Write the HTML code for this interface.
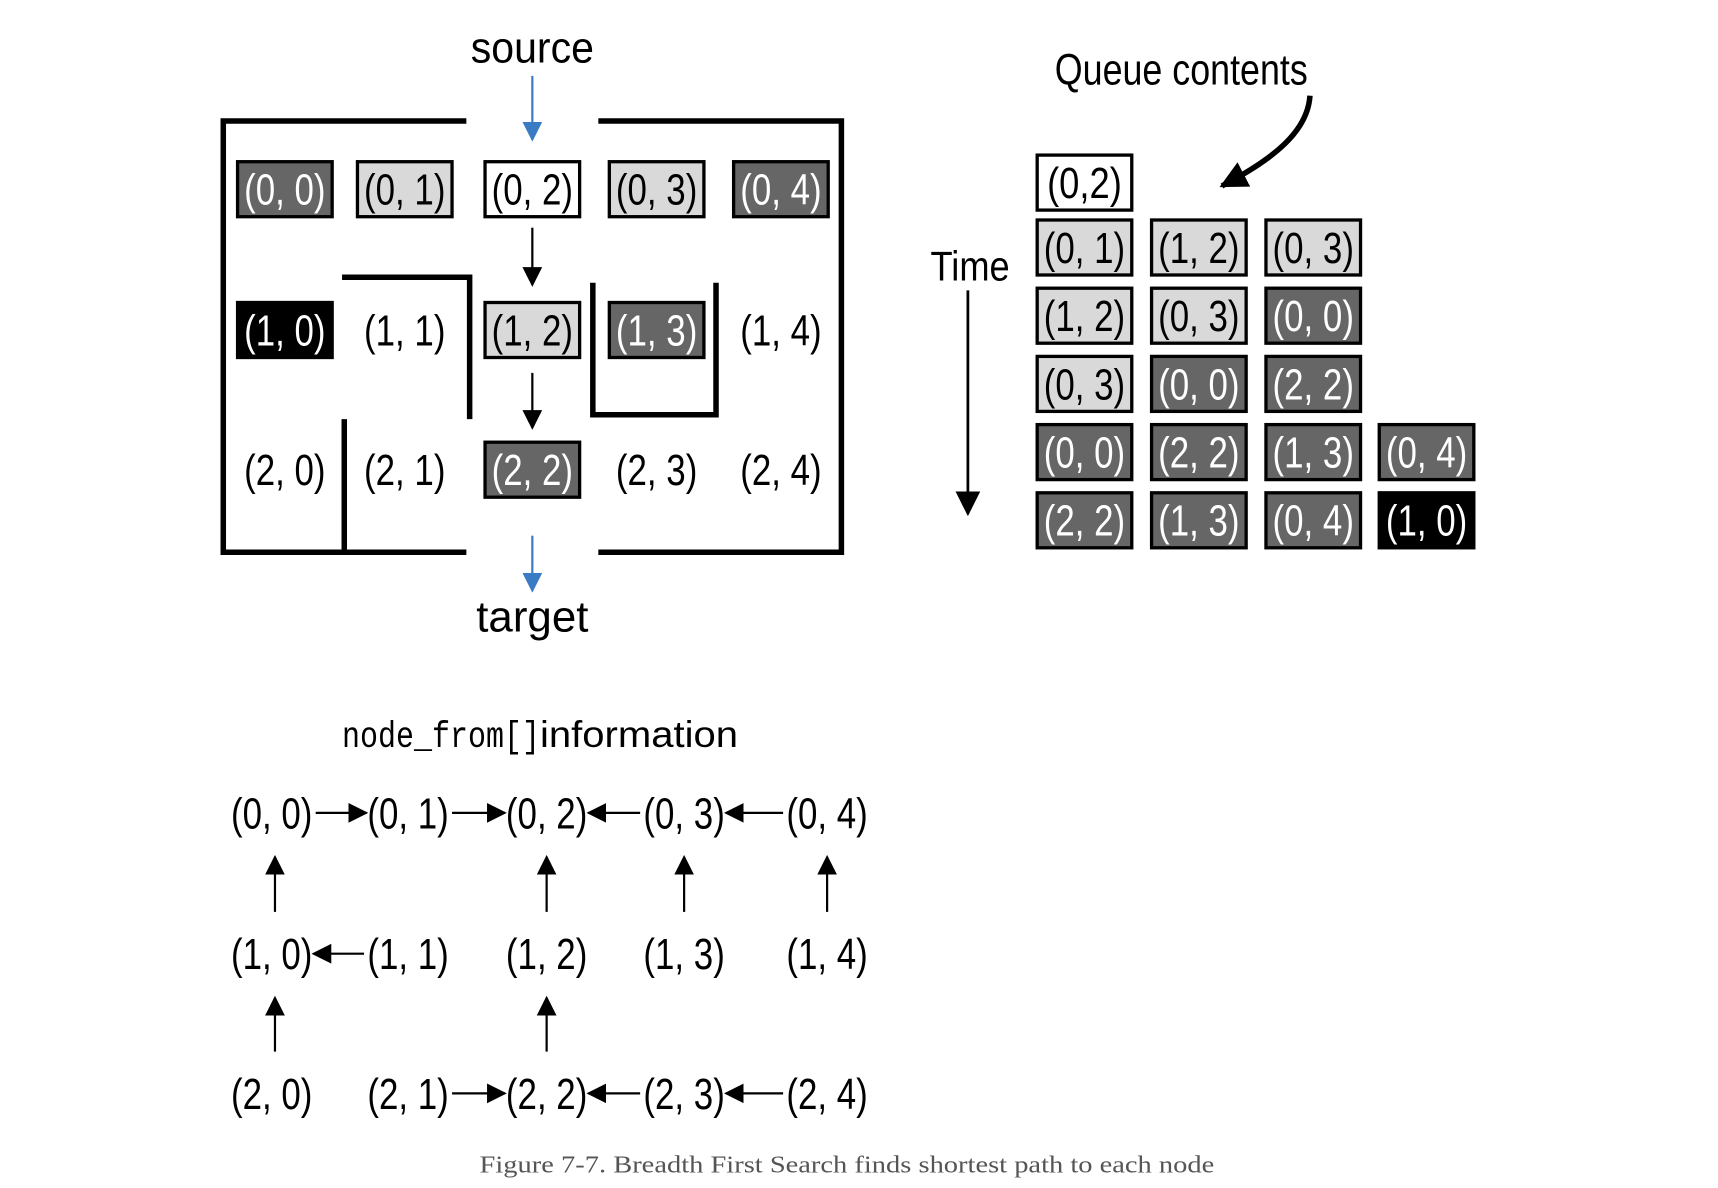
<!DOCTYPE html>
<html><head><meta charset="utf-8"><style>
html,body{margin:0;padding:0;background:#fff;}
svg{display:block;}
text{font-family:"Liberation Sans",sans-serif;}
</style></head><body>
<svg id="fig" width="1718" height="1188" viewBox="1 1 1562 1080" preserveAspectRatio="none" xmlns="http://www.w3.org/2000/svg">
<defs>
<marker id="ah" viewBox="0 0 10 10" refX="9" refY="5" markerWidth="9" markerHeight="9" orient="auto"><path d="M0,0L10,5L0,10z" fill="#000"/></marker>
<marker id="ahb" viewBox="0 0 10 10" refX="9" refY="5" markerWidth="9" markerHeight="9" orient="auto"><path d="M0,0L10,5L0,10z" fill="#3a7cc4"/></marker>
<marker id="ahc" viewBox="0 0 10 10" refX="9" refY="5" markerWidth="5" markerHeight="5" orient="auto"><path d="M0,0L10,5L0,10z" fill="#000"/></marker>
</defs>
<g id="maze" stroke="#000" stroke-width="5" fill="none">
<path d="M425,111H204V503H425M545,111H766V503H545"/>
<path d="M312,253H428V382"/>
<path d="M314,382V503"/>
<path d="M540,258V378H652V258"/>
</g>
<text x="485" y="58" font-size="40" text-anchor="middle" textLength="112" lengthAdjust="spacingAndGlyphs">source</text>
<text x="485" y="575" font-size="40" text-anchor="middle" textLength="102" lengthAdjust="spacingAndGlyphs">target</text>
<line x1="485" y1="70" x2="485" y2="128" stroke="#3a7cc4" stroke-width="2" marker-end="url(#ahb)"/>
<line x1="485" y1="488" x2="485" y2="538" stroke="#3a7cc4" stroke-width="2" marker-end="url(#ahb)"/>
<line x1="485" y1="208" x2="485" y2="260" stroke="#000" stroke-width="2" marker-end="url(#ah)"/>
<line x1="485" y1="340" x2="485" y2="390" stroke="#000" stroke-width="2" marker-end="url(#ah)"/>
<g id="cells"></g>
<text x="1075" y="78" font-size="40" text-anchor="middle" textLength="230" lengthAdjust="spacingAndGlyphs">Queue contents</text>
<path d="M1192,88C1190,120 1160,145 1112,170" stroke="#000" stroke-width="5" fill="none" marker-end="url(#ahc)"/>
<text x="883" y="256" font-size="38" text-anchor="middle" textLength="72" lengthAdjust="spacingAndGlyphs">Time</text>
<line x1="881" y1="265" x2="881" y2="468" stroke="#000" stroke-width="2.5" marker-end="url(#ah)"/>
<g id="queue"></g>
<text x="312" y="680" font-size="34"><tspan font-family="Liberation Mono, monospace" textLength="180" lengthAdjust="spacingAndGlyphs">node_from[]</tspan><tspan textLength="180" lengthAdjust="spacingAndGlyphs">information</tspan></text>
<g id="tree"></g>
<text x="771" y="1067" font-size="22" fill="#555" text-anchor="middle" style="font-family:'Liberation Serif',serif" textLength="668" lengthAdjust="spacingAndGlyphs">Figure 7-7. Breadth First Search finds shortest path to each node</text>
</svg>
<script>
const NS="http://www.w3.org/2000/svg";
const colX=[260,369,485,598,711];
const rowY=[173,301,428];
const mazeCells=[["d","l","w","l","d"],["b","n","l","d","n"],["n","n","d","n","n"]];
const qColX=[987,1091,1195,1298];
const qRowY=[167,226,288,350,412,474];
const queueRows=[["(0,2)"],["(0, 1)","(1, 2)","(0, 3)"],["(1, 2)","(0, 3)","(0, 0)"],["(0, 3)","(0, 0)","(2, 2)"],["(0, 0)","(2, 2)","(1, 3)","(0, 4)"],["(2, 2)","(1, 3)","(0, 4)","(1, 0)"]];
const queueColors=[["w"],["l","l","l"],["l","l","d"],["l","d","d"],["d","d","d","d"],["d","d","d","b"]];
const treeX=[248,372,498,623,753];
const treeY=[740,868,995];
const treeH=[[0,0,1],[0,1,2],[0,3,2],[0,4,3],[1,1,0],[2,1,2],[2,3,2],[2,4,3]];
const treeV=[[1,0],[1,2],[1,3],[1,4],[2,0],[2,2]];
const fills={d:"#666",l:"#d9d9d9",w:"#fff",b:"#000"};
function mk(tag,attrs,parent){const e=document.createElementNS(NS,tag);for(const k in attrs)e.setAttribute(k,attrs[k]);parent.appendChild(e);return e;}
function cell(parent,cx,cy,label,c,name){
 const g=mk("g",{},parent);
 
 
 if(c!=="n"){const r=mk("rect",{x:cx-43,y:cy-25,width:86,height:50,fill:fills[c],stroke:"#000","stroke-width":3},g);
  
  }
 const t=mk("text",{x:cx,y:cy+14,"font-size":40,"text-anchor":"middle",fill:(c==="d"||c==="b")?"#fff":"#000",textLength:label.length>5?74:68,lengthAdjust:"spacingAndGlyphs"},g);
 
 
 t.textContent=label;
}
const cg=document.getElementById("cells");
mazeCells.forEach((row,r)=>row.forEach((c,k)=>cell(cg,colX[k],rowY[r],"("+r+", "+k+")",c,"maze-cell-"+r+"-"+k)));
const qg=document.getElementById("queue");
queueRows.forEach((row,r)=>row.forEach((lab,k)=>cell(qg,qColX[k],qRowY[r],lab,queueColors[r][k],"queue-item-"+r+"-"+k)));
const tg=document.getElementById("tree");
for(let r=0;r<3;r++)for(let k=0;k<5;k++){
 const t=mk("text",{x:treeX[k],y:treeY[r]+14,"font-size":40,"text-anchor":"middle",textLength:74,lengthAdjust:"spacingAndGlyphs"},tg);
 
 
 t.textContent="("+r+", "+k+")";
}
treeH.forEach(([r,a,b])=>{
 const dir=b>a?1:-1;
 const l=mk("line",{x1:treeX[a]+dir*40,y1:treeY[r],x2:treeX[b]-dir*38,y2:treeY[r],stroke:"#000","stroke-width":2,"marker-end":"url(#ah)"},tg);
 
 
});
treeV.forEach(([r,k])=>{
 const l=mk("line",{x1:treeX[k]+(k===0?3:0),y1:treeY[r]-38,x2:treeX[k]+(k===0?3:0),y2:treeY[r-1]+40,stroke:"#000","stroke-width":2,"marker-end":"url(#ah)"},tg);
 
 
});
</script>
</body></html>
